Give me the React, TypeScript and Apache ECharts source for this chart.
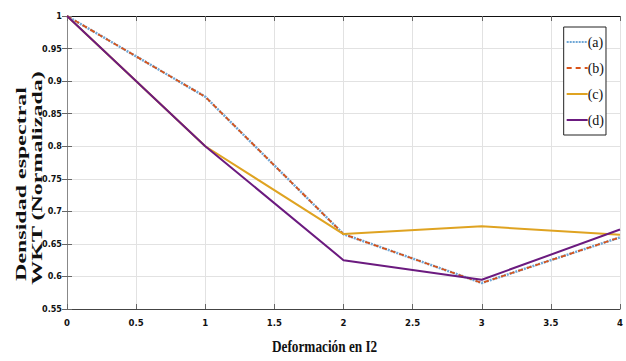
import React, { useEffect, useRef } from "react";
import * as echarts from "echarts";

const xValues = [0, 1, 2, 3, 4];
const seriesA = [1.0, 0.876, 0.665, 0.59, 0.66];
const seriesB = [1.0, 0.876, 0.665, 0.59, 0.66];
const seriesC = [1.0, 0.8, 0.665, 0.677, 0.664];
const seriesD = [1.0, 0.8, 0.625, 0.595, 0.672];
const seriesNames = ["(a)", "(b)", "(c)", "(d)"];

const tickFont = "'Liberation Sans Narrow', 'DejaVu Sans Condensed', sans-serif";
const serif = "'Liberation Serif', 'DejaVu Serif', serif";

export default function App() {
  const ref = useRef<HTMLDivElement>(null);
  useEffect(() => {
    if (!ref.current) return;
    const chart = echarts.init(ref.current, null, { renderer: "svg" });
    const pair = (ys: number[]) => xValues.map((x, i) => [x, ys[i]]);
    const axisCommon = {
      type: "value" as const,
      axisTick: { show: true, inside: true, length: 5, lineStyle: { color: "#666" } },
    };
    chart.setOption({
      animation: false,
      backgroundColor: "#fff",
      grid: { left: 67, right: 6, top: 16, bottom: 52 },
      xAxis: [
        {
          ...axisCommon,
          min: 0,
          max: 4,
          interval: 0.5,
          axisLine: { lineStyle: { color: "#444", width: 1 } },
          axisLabel: { color: "#111", fontFamily: tickFont, fontWeight: "bold", fontSize: 9.5, margin: 8 },
          splitLine: { show: true, lineStyle: { color: "#e2e2e2" } },
        },
        {
          ...axisCommon,
          position: "top",
          min: 0,
          max: 4,
          interval: 0.5,
          axisLine: { show: true, lineStyle: { color: "#111", width: 1 } },
          axisLabel: { show: false },
          splitLine: { show: false },
        },
      ],
      yAxis: [
        {
          ...axisCommon,
          min: 0.55,
          max: 1,
          interval: 0.05,
          axisLine: { show: true, lineStyle: { color: "#999", width: 1 } },
          axisLabel: {
            color: "#111",
            fontFamily: tickFont,
            fontWeight: "bold",
            fontSize: 9,
            margin: 5,
            formatter: (v: number) => String(Math.round(v * 100) / 100),
          },
          splitLine: { show: true, lineStyle: { color: "#e2e2e2" } },
        },
        {
          ...axisCommon,
          position: "right",
          min: 0.55,
          max: 1,
          interval: 0.05,
          axisLine: { show: true, lineStyle: { color: "#888", width: 1 } },
          axisLabel: { show: false },
          splitLine: { show: false },
        },
      ],
      legend: {
        orient: "vertical",
        right: 20,
        top: 27,
        data: seriesNames,
        itemWidth: 21,
        itemHeight: 10,
        itemGap: 12,
        padding: [8, 2, 8, 2],
        borderColor: "#222",
        borderWidth: 1,
        backgroundColor: "#fff",
        itemStyle: { opacity: 0 },
        textStyle: { fontFamily: serif, fontSize: 14, color: "#111", padding: [0, 0, 0, -5] },
      },
      graphic: [
        {
          type: "text",
          left: 272,
          top: 337,
          scaleX: 0.78,
          style: {
            text: "Deformación en I2",
            font: `bold 17px ${serif}`,
            fill: "#111",
          },
        },
        {
          type: "text",
          x: 21,
          y: 184,
          rotation: Math.PI / 2,
          scaleX: 1.6,
          style: {
            text: "Densidad espectral",
            font: `bold 15px ${serif}`,
            fill: "#111",
            align: "center",
            verticalAlign: "middle",
          },
        },
        {
          type: "text",
          x: 37,
          y: 178,
          rotation: Math.PI / 2,
          scaleX: 1.6,
          style: {
            text: "WKT (Normalizada)",
            font: `bold 15px ${serif}`,
            fill: "#111",
            align: "center",
            verticalAlign: "middle",
          },
        },
      ],
      series: [
        {
          name: "(a)",
          type: "line",
          data: pair(seriesA),
          showSymbol: false,
          symbol: "none",
          lineStyle: { color: "#6fa7d6", width: 2.5, type: [2, 1] },
          itemStyle: { color: "#6fa7d6" },
        },
        {
          name: "(b)",
          type: "line",
          data: pair(seriesB),
          showSymbol: false,
          symbol: "none",
          lineStyle: { color: "#d95319", width: 1.8, type: [5, 4] },
          itemStyle: { color: "#d95319" },
        },
        {
          name: "(c)",
          type: "line",
          data: pair(seriesC),
          showSymbol: false,
          symbol: "none",
          lineStyle: { color: "#dfa321", width: 2 },
          itemStyle: { color: "#dfa321" },
        },
        {
          name: "(d)",
          type: "line",
          data: pair(seriesD),
          showSymbol: false,
          symbol: "none",
          lineStyle: { color: "#6b1a7f", width: 2 },
          itemStyle: { color: "#6b1a7f" },
        },
      ],
    });
    return () => chart.dispose();
  }, []);
  return <div ref={ref} style={{ width: 626, height: 361, position: "absolute", left: 0, top: 0 }} />;
}
